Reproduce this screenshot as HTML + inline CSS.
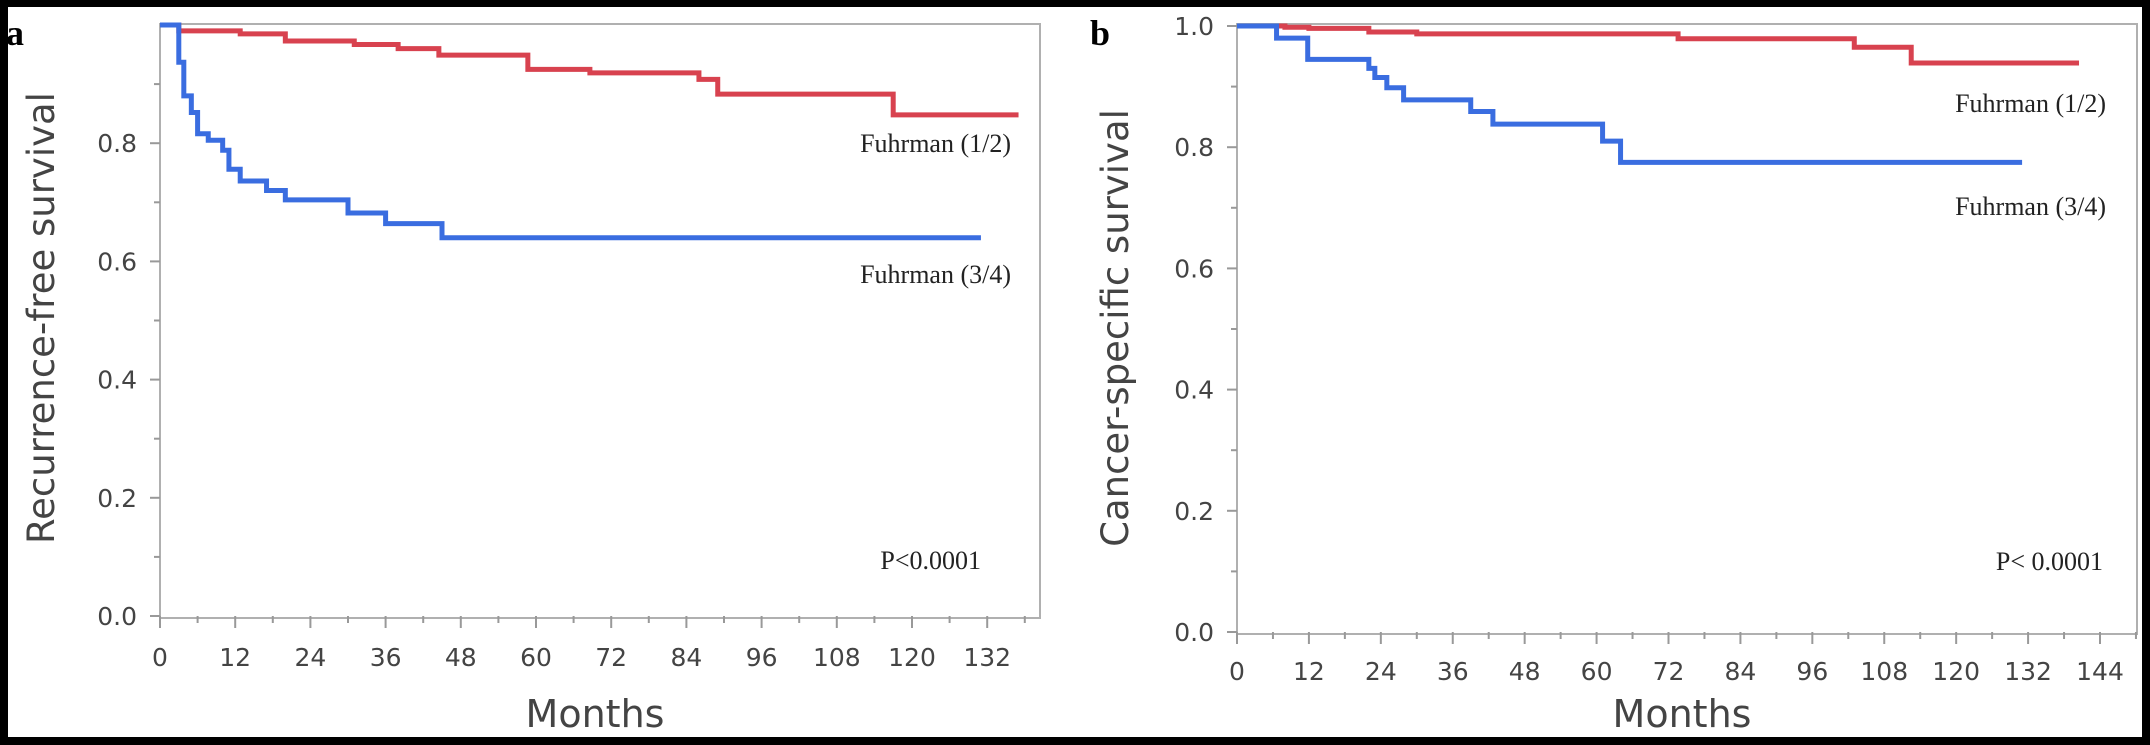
<!DOCTYPE html>
<html><head><meta charset="utf-8">
<style>
html,body{margin:0;padding:0;background:#000;}
svg{display:block;}
</style></head>
<body>
<svg id="fig" width="2150" height="745" xmlns="http://www.w3.org/2000/svg">
<rect x="8" y="7" width="2134" height="730" fill="#fff"/>
<g id="pa"></g>
<g id="pb"></g>
</svg>
<script>
// Panel a data (Recurrence-free survival)
const aXTicks = [0,12,24,36,48,60,72,84,96,108,120,132];
const aYTicks = [0.0,0.2,0.4,0.6,0.8];
const aRedT = [0,3,12.8,20,31,38,44.5,58.7,68.6,86,89,117,137];
const aRedS = [1.0,0.99,0.985,0.973,0.967,0.96,0.949,0.925,0.919,0.908,0.883,0.848,0.848];
const aBlueT = [0,3,3.8,5,6,7.7,10,11,12.8,17,20,30,36,45,131];
const aBlueS = [1.0,0.937,0.88,0.852,0.816,0.805,0.788,0.756,0.736,0.72,0.704,0.682,0.664,0.64,0.64];
// Panel b data (Cancer-specific survival)
const bXTicks = [0,12,24,36,48,60,72,84,96,108,120,132,144];
const bYTicks = [0.0,0.2,0.4,0.6,0.8,1.0];
const bRedT = [0,8,12,22,30,73.6,103,112.5,140.5];
const bRedS = [1.0,0.998,0.996,0.99,0.987,0.979,0.965,0.939,0.939];
const bBlueT = [0,6.6,11.8,22,23,25,27.8,39,42.7,61,64,131];
const bBlueS = [1.0,0.98,0.945,0.93,0.915,0.898,0.878,0.859,0.838,0.81,0.775,0.775];

const NS='http://www.w3.org/2000/svg';
function mk(parent,tag,attrs,text){
  const e=document.createElementNS(NS,tag);
  for(const k in attrs) e.setAttribute(k,attrs[k]);
  if(text!==undefined) e.textContent=text;
  parent.appendChild(e); return e;
}
function drawPanel(g,cfg){
  const sx=m=>cfg.x0+m*cfg.pxPerMonth;
  const sy=v=>cfg.y0-v*cfg.pxPerUnit;
  const frame=mk(g,'rect',{x:cfg.left,y:cfg.top,width:cfg.right-cfg.left,height:cfg.y0+2-cfg.top,fill:'none',stroke:'#b0b0b0','stroke-width':2});
  
  
  // y ticks
  cfg.yTicks.forEach(v=>{
    const y=sy(v);
    const t=mk(g,'line',{x1:cfg.left-10,x2:cfg.left,y1:y,y2:y,stroke:'#999','stroke-width':2});
    
    
    const m=mk(g,'line',{x1:cfg.left-6,x2:cfg.left,y1:sy(v+0.1),y2:sy(v+0.1),stroke:'#999','stroke-width':2});
    
    
    const l=mk(g,'text',{x:cfg.left-23,y:y+9,'text-anchor':'end','font-size':25,fill:'#444','font-family':'DejaVu Sans, Liberation Sans, sans-serif'},v.toFixed(1));
    
    
  });
  // x ticks
  cfg.xTicks.forEach(mo=>{
    const x=sx(mo);
    const t=mk(g,'line',{x1:x,x2:x,y1:cfg.y0,y2:cfg.y0+12,stroke:'#999','stroke-width':2});
    
    
    const m=mk(g,'line',{x1:sx(mo+6),x2:sx(mo+6),y1:cfg.y0,y2:cfg.y0+7,stroke:'#999','stroke-width':2});
    
    
    const l=mk(g,'text',{x:x,y:cfg.tickBase,'text-anchor':'middle','font-size':25,fill:'#444','font-family':'DejaVu Sans, Liberation Sans, sans-serif'},String(mo));
    
    
  });
  // curves
  const curve=(T,S,color,name)=>{
    let d='M'+sx(T[0])+' '+sy(S[0]);
    for(let i=1;i<T.length;i++){ d+=' H'+sx(T[i])+' V'+sy(S[i]); }
    const p=mk(g,'path',{d:d,fill:'none',stroke:color,'stroke-width':5});
    
    
  };
  curve(cfg.redT,cfg.redS,'#d8424f','curve-fuhrman-1-2');
  curve(cfg.blueT,cfg.blueS,'#3a6de0','curve-fuhrman-3-4');
  const serif={'font-family':'Liberation Serif, serif',fill:'#222'};
  const l1=mk(g,'text',Object.assign({x:cfg.l1x,y:cfg.l1y,'text-anchor':'end','font-size':26},serif),'Fuhrman (1/2)');
  
  
  const l2=mk(g,'text',Object.assign({x:cfg.l1x,y:cfg.l2y,'text-anchor':'end','font-size':26},serif),'Fuhrman (3/4)');
  
  
  const pv=mk(g,'text',Object.assign({x:cfg.px,y:cfg.py,'text-anchor':'end','font-size':26},serif),cfg.ptext);
  
  
  const pl=mk(g,'text',{x:cfg.panelX,y:45,'font-size':36,'font-weight':'bold','font-family':'Liberation Serif, serif',fill:'#000'},cfg.panel);
  
  
  const yt=mk(g,'text',{x:0,y:0,'text-anchor':'middle','font-size':37,fill:'#444','font-family':'DejaVu Sans, Liberation Sans, sans-serif',transform:'translate('+cfg.ytX+','+cfg.ytY+') rotate(-90)'},cfg.yTitle);
  
  
  const xt=mk(g,'text',{x:cfg.xtX,y:727,'text-anchor':'middle','font-size':38,fill:'#444','font-family':'DejaVu Sans, Liberation Sans, sans-serif'},'Months');
  
  
}
drawPanel(document.getElementById('pa'),{
  left:160,right:1040,top:24,x0:160,y0:616,pxPerMonth:75.2/12,pxPerUnit:591,
  xTicks:aXTicks,yTicks:aYTicks,redT:aRedT,redS:aRedS,blueT:aBlueT,blueS:aBlueS,
  tickBase:666,l1x:1011,l1y:152,l2y:283,px:981,py:569,ptext:'P<0.0001',
  panel:'a',panelX:6,yTitle:'Recurrence-free survival',ytX:54,ytY:318,xtX:595
});
drawPanel(document.getElementById('pb'),{
  left:1237,right:2137,top:24,x0:1237,y0:632,pxPerMonth:(2100-1237)/144,pxPerUnit:606,
  xTicks:bXTicks,yTicks:bYTicks,redT:bRedT,redS:bRedS,blueT:bBlueT,blueS:bBlueS,
  tickBase:680,l1x:2106,l1y:112,l2y:215,px:2103,py:570,ptext:'P< 0.0001',
  panel:'b',panelX:1090,yTitle:'Cancer-specific survival',ytX:1128,ytY:328,xtX:1682
});
</script>
</body></html>
